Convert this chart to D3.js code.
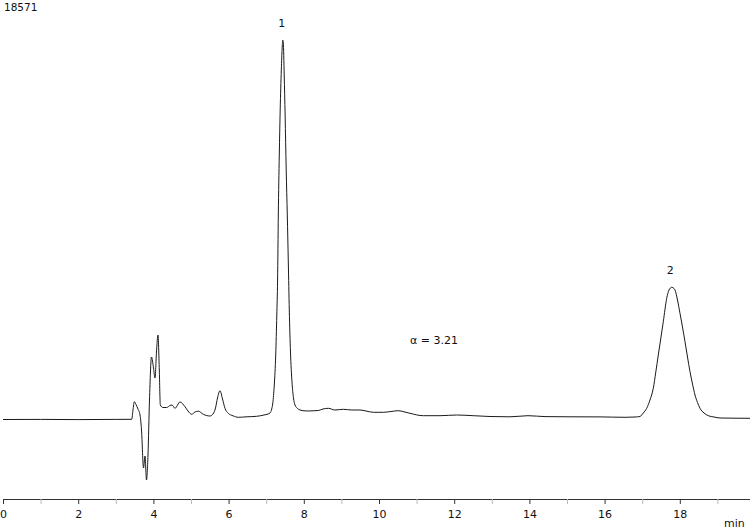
<!DOCTYPE html>
<html>
<head>
<meta charset="utf-8">
<script src="https://cdn.jsdelivr.net/npm/d3@7"></script>
<style>
  html, body { margin: 0; padding: 0; background: #fff; }
  svg { display: block; }
  text { font-family: "DejaVu Sans", Verdana, sans-serif; fill: #111; }
</style>
</head>
<body>
<script>
// retention time (min) and detector signal (arbitrary units, baseline = 0)
var times = [
  0, 1, 2, 3, 3.423, 3.457, 3.492, 3.537, 3.590, 3.644, 3.684, 3.737, 3.777, 3.816,
  3.856, 3.896, 3.949, 4.003, 4.043, 4.082, 4.122, 4.157, 4.184, 4.255, 4.354, 4.441,
  4.495, 4.574, 4.707, 4.840, 4.920, 5.019, 5.106, 5.194, 5.327, 5.505, 5.585, 5.652,
  5.705, 5.771, 5.838, 5.904, 5.992, 6.117, 6.258, 6.489, 6.747, 6.941, 7.048,
  7.101, 7.146, 7.176, 7.215, 7.253, 7.282, 7.303, 7.322, 7.348, 7.372, 7.402, 7.426,
  7.439, 7.455, 7.479, 7.503, 7.532, 7.561, 7.588, 7.614, 7.646, 7.686, 7.726, 7.766,
  7.832, 7.899, 8.005, 8.120, 8.245, 8.386, 8.511, 8.652, 8.830, 9.051, 9.274, 9.495,
  9.654, 9.848, 10.114, 10.319, 10.513, 10.665, 10.824, 11.178, 11.622, 12.066, 12.508,
  12.952, 13.484, 13.963, 14.415, 15.080, 15.878, 16.543, 16.809, 16.941, 17.029,
  17.120, 17.207, 17.295, 17.362, 17.428, 17.500, 17.561, 17.652, 17.713, 17.785,
  17.846, 17.872, 17.939, 18.005, 18.072, 18.138, 18.205, 18.271, 18.338, 18.404,
  18.471, 18.537, 18.644, 18.758, 18.910, 19.069, 19.468, 19.867
]
var signal = [
  0, 0.1, -0.1, 0.1, 0.2, 9.5, 17.8, 15, 10.5, 4.5, -10.5, -48.5, -36.5, -60.5,
  -35.5, 19.5, 62.5, 51.5, 41.5, 67.5, 84.5, 49.5, 14.5, 12, 12, 14,
  14.5, 11.2, 17.5, 12.8, 8.5, 5.2, 7.5, 8.3, 5.2, 3.5, 5.5, 11.5,
  21.5, 28.8, 20.5, 11.2, 6.2, 3.7, 2.2, 2.7, 3.2, 4.5, 5.5,
  6.5, 10.5, 16.5, 34.5, 64.5, 104.5, 139.5, 204.5, 264.5, 309.5, 349.5, 372.5,
  379.5, 376.5, 344.5, 304.5, 249.5, 204.5, 157.5, 109.5, 67.5, 37.5, 21.5, 14.5,
  11, 9.5, 8.7, 8.5, 8.7, 9, 10.5, 11.2, 9.5, 10.2, 9.5, 9.5,
  8.5, 7.2, 7.2, 8, 8.8, 7.7, 6.2, 3.8, 3.8, 4.5, 3.8,
  3, 2.7, 3.8, 2.9, 2.7, 2.6, 2.2, 2.5, 3, 6.5,
  11.2, 19.5, 31.2, 47.5, 64.5, 82.5, 97.8, 121.2, 129.5, 132.2,
  131, 129.5, 119.5, 106.2, 92.5, 77.8, 62.5, 47.8, 35.5, 24.5,
  17, 11.2, 6.5, 3.8, 2.5, 1.5, 1.3, 1.2
]

var peakLabels = ['1', '2']
var peakTimes = [7.43, 17.76]
var peakHeights = [379.5, 132.2]
var runId = '18571'
var selectivity = 'α = 3.21'
var axisUnit = 'min'
var tickValues = d3.range(0, 20)

var W = 750, H = 529

var svg = d3.select('body').append('svg')
  .attr('width', W)
  .attr('height', H)

var x = d3.scaleLinear().domain([0, 19.867]).range([3, 750])
var y = d3.scaleLinear().domain([0, 380]).range([419.5, 39.5])

var data = times.map(function(t, i) { return [t, signal[i]] })

var line = d3.line()
  .x(function(d) { return x(d[0]) })
  .y(function(d) { return y(d[1]) })
  .curve(d3.curveMonotoneX)

svg.append('path')
  .datum(data)
  .attr('fill', 'none')
  .attr('stroke', '#1a1a1a')
  .attr('stroke-width', 1)
  .attr('stroke-linejoin', 'round')
  .attr('d', line)

// time axis
var axis = d3.axisBottom(x)
  .tickValues(tickValues)
  .tickSize(5)
  .tickSizeOuter(0)
  .tickPadding(6)
  .tickFormat(function(d) { return d % 2 === 0 ? d : '' })

var gx = svg.append('g')
  .attr('transform', 'translate(0,499)')
  .call(axis)

gx.select('.domain').attr('stroke', '#333').attr('stroke-width', 1)
gx.selectAll('.tick line')
  .attr('stroke', function(d) { return d % 2 === 0 ? '#333' : '#bbb' })
gx.selectAll('.tick text')
  .attr('font-family', '"DejaVu Sans", Verdana, sans-serif')
  .attr('font-size', 11)
  .attr('fill', '#111')

svg.append('text')
  .attr('x', 724)
  .attr('y', 527)
  .attr('font-size', 11)
  .text(axisUnit)

// peak numbers
svg.selectAll('text.peak')
  .data(peakLabels)
  .enter().append('text')
  .attr('class', 'peak')
  .attr('x', function(d, i) { return x(peakTimes[i]) - 0.5 })
  .attr('y', function(d, i) { return y(peakHeights[i]) - 13 })
  .attr('text-anchor', 'middle')
  .attr('font-size', 11)
  .text(function(d) { return d })

svg.append('text')
  .attr('x', 4)
  .attr('y', 11)
  .attr('font-size', 10.5)
  .text(runId)

svg.append('text')
  .attr('x', 410)
  .attr('y', 344)
  .attr('font-size', 11)
  .text(selectivity)
</script>
</body>
</html>
